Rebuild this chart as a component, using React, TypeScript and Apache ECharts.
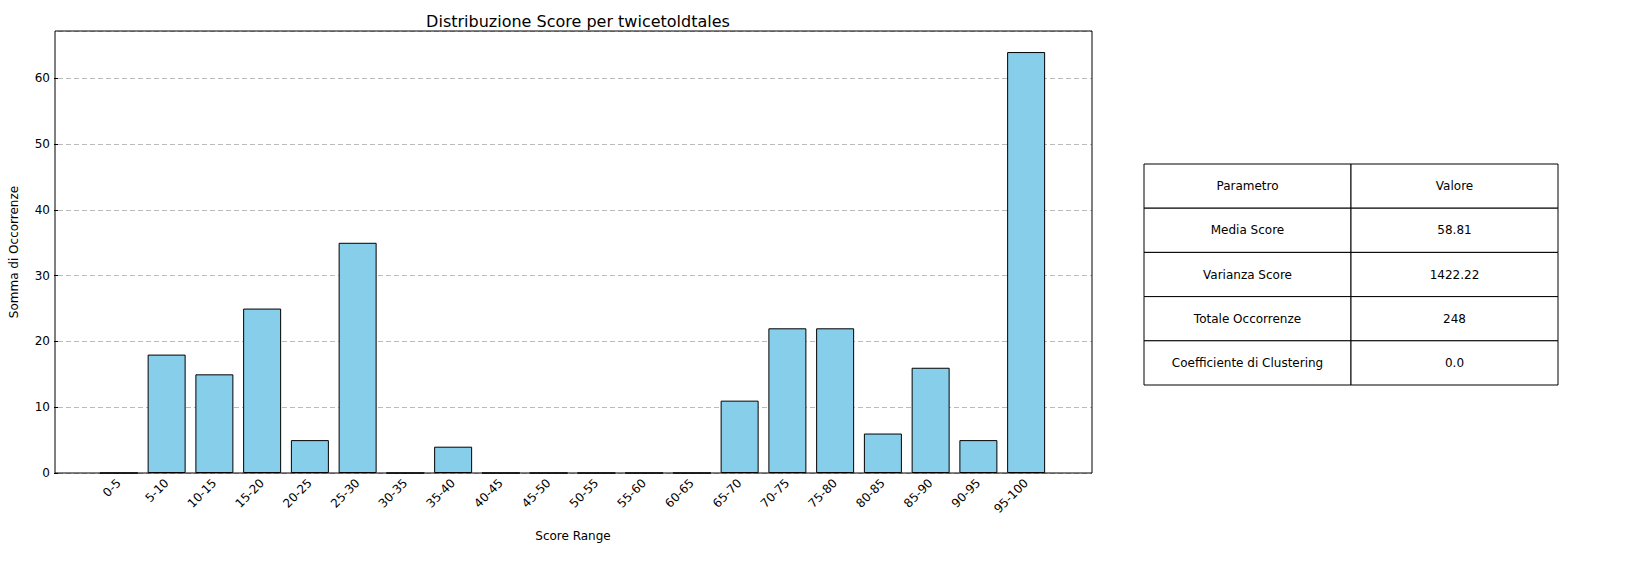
import React, { useEffect, useRef } from "react";
import * as echarts from "echarts";

const categories = ["0-5","5-10","10-15","15-20","20-25","25-30","30-35","35-40","40-45","45-50","50-55","55-60","60-65","65-70","70-75","75-80","80-85","85-90","90-95","95-100"];
const values = [0,18,15,25,5,35,0,4,0,0,0,0,0,11,22,22,6,16,5,64];
const tableRows = [["Parametro","Valore"],["Media Score","58.81"],["Varianza Score","1422.22"],["Totale Occorrenze","248"],["Coefficiente di Clustering","0.0"]];

const F = "DejaVu Sans";

export default function App() {
  const ref = useRef<HTMLDivElement>(null);
  useEffect(() => {
    const chart = echarts.init(ref.current!, null, { renderer: "svg" });
    const tx0 = 1144, tx1 = 1351, tx2 = 1558, ty0 = 164, rh = 44.2;
    const g: any[] = [];
    tableRows.forEach((r, i) => {
      const y = ty0 + i * rh;
      g.push({ type: "rect", shape: { x: tx0, y, width: tx1 - tx0, height: rh }, style: { fill: "#fff", stroke: "#000", lineWidth: 1 } });
      g.push({ type: "rect", shape: { x: tx1, y, width: tx2 - tx1, height: rh }, style: { fill: "#fff", stroke: "#000", lineWidth: 1 } });
      g.push({ type: "text", x: (tx0 + tx1) / 2, y: y + rh / 2, style: { text: r[0], fontFamily: F, fontSize: 12, fill: "#000", align: "center", verticalAlign: "middle" } });
      g.push({ type: "text", x: (tx1 + tx2) / 2, y: y + rh / 2, style: { text: r[1], fontFamily: F, fontSize: 12, fill: "#000", align: "center", verticalAlign: "middle" } });
    });
    g.push({ type: "rect", shape: { x: 55, y: 31, width: 1037, height: 442 }, style: { fill: "none", stroke: "#000", lineWidth: 1 }, z: 100 });
    const ymax = 67.2;
    chart.setOption({
      animation: false,
      title: { text: "Distribuzione Score per twicetoldtales", left: 573, top: 8, textAlign: "center", textStyle: { fontFamily: F, fontSize: 16, fontWeight: "normal", color: "#000" } },
      grid: [
        { left: 95, top: 31, width: 955, height: 442 },
        { left: 55, top: 31, width: 1037, height: 442 },
      ],
      xAxis: [
        { type: "category", gridIndex: 0, data: categories, boundaryGap: true,
          axisLine: { show: false }, axisTick: { alignWithLabel: true, length: 4, lineStyle: { color: "#000" } },
          axisLabel: { rotate: 45, interval: 0, fontFamily: F, fontSize: 12, color: "#000", margin: 8 } },
        { type: "value", gridIndex: 1, show: false, min: 0, max: 1 },
      ],
      yAxis: [
        { type: "value", gridIndex: 0, min: 0, max: ymax, interval: 10, show: false },
        { type: "value", gridIndex: 1, min: 0, max: ymax, interval: 10,
          name: "Somma di Occorrenze", nameLocation: "middle", nameGap: 38,
          nameTextStyle: { fontFamily: F, fontSize: 12, color: "#000" },
          axisLine: { show: false }, axisTick: { show: true, length: 4, lineStyle: { color: "#000" } },
          axisLabel: { showMaxLabel: false, fontFamily: F, fontSize: 12, color: "#000", margin: 8 },
          splitLine: { show: true, lineStyle: { type: [5, 3], color: "#bbb", width: 1 } } },
      ],
      graphic: [
        ...g,
        { type: "text", x: 573, y: 536, style: { text: "Score Range", fontFamily: F, fontSize: 12, fill: "#000", align: "center", verticalAlign: "middle" } },
      ],
      series: [
        { type: "bar", xAxisIndex: 0, yAxisIndex: 0, data: values, barWidth: 38,
          itemStyle: { color: "#87CEEB", borderColor: "#000", borderWidth: 1 } },
      ],
    });
    return () => chart.dispose();
  }, []);
  return <div ref={ref} style={{ position: "absolute", left: 0, top: 0, width: 1640, height: 578, background: "#fff" }} />;
}
